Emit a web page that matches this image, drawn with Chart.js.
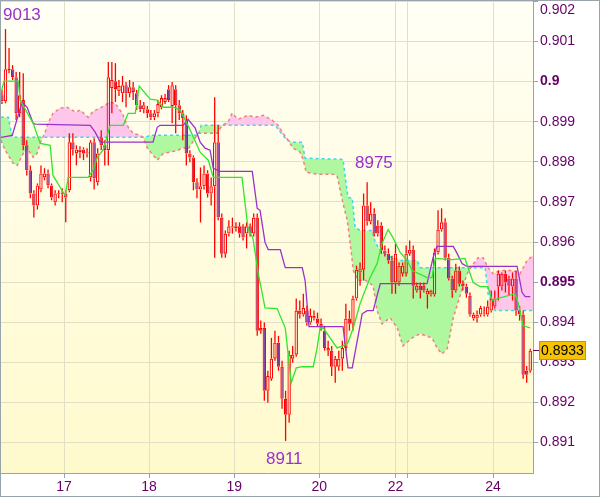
<!DOCTYPE html>
<html>
<head>
<meta charset="utf-8">
<title>Ichimoku H1</title>
<script src="https://cdn.jsdelivr.net/npm/chart.js@4.4.0/dist/chart.umd.min.js"></script>
<style>
  html, body { margin: 0; padding: 0; background: #fff; }
  #wrap { width: 600px; height: 497px; }
</style>
</head>
<body>
<div id="wrap"><canvas id="chart" width="600" height="497"></canvas></div>
<script>
// Hourly candles, bar 0 = first bar on screen
const opens = [
  0.89966, 0.89951, 0.90029, 0.90031, 0.90011, 0.89921, 0.89954, 0.89841, 0.89779, 0.89721,
  0.89691, 0.89731, 0.89761, 0.89771, 0.89741, 0.89699, 0.89721, 0.89719, 0.89721, 0.89729,
  0.89849, 0.89821, 0.89831, 0.89831, 0.89821, 0.89761, 0.89849, 0.89749, 0.89861, 0.89841,
  0.89829, 0.89984, 0.90001, 0.89976, 0.89971, 0.89991, 0.89971, 0.89986, 0.89971, 0.89941,
  0.89931, 0.89931, 0.89921, 0.89911, 0.89921, 0.89936, 0.89949, 0.89981, 0.89939, 0.89981,
  0.89941, 0.89921, 0.89904, 0.89821, 0.89811, 0.89749, 0.89731, 0.89739, 0.89771, 0.89721,
  0.89739, 0.89849, 0.89661, 0.89571, 0.89621, 0.89639, 0.89634, 0.89639, 0.89639, 0.89621,
  0.89639, 0.89621, 0.89661, 0.89386, 0.89386, 0.89229, 0.89259, 0.89309, 0.89349, 0.89289,
  0.89209, 0.89169, 0.89309, 0.89319, 0.89429, 0.89419, 0.89429, 0.89399, 0.89416, 0.89409,
  0.89396, 0.89379, 0.89336, 0.89329, 0.89289, 0.89289, 0.89309, 0.89336, 0.89409, 0.89396,
  0.89459, 0.89524, 0.89531, 0.89691, 0.89651, 0.89671, 0.89641, 0.89641, 0.89579, 0.89571,
  0.89554, 0.89499, 0.89499, 0.89521, 0.89521, 0.89571, 0.89581, 0.89479, 0.89491, 0.89491,
  0.89469, 0.89469, 0.89469, 0.89574, 0.89631, 0.89649, 0.89561, 0.89509, 0.89479, 0.89529,
  0.89496, 0.89489, 0.89466, 0.89409, 0.89409, 0.89419, 0.89419, 0.89419, 0.89429, 0.89439,
  0.89489, 0.89489, 0.89521, 0.89509, 0.89489, 0.89509, 0.89429, 0.89419, 0.89279, 0.89279
];
const highs = [
  0.89979, 0.90131, 0.90084, 0.90041, 0.90024, 0.90024, 0.90021, 0.89854, 0.89791, 0.89729,
  0.89746, 0.89791, 0.89784, 0.89781, 0.89746, 0.89729, 0.89729, 0.89734, 0.89729, 0.89871,
  0.89871, 0.89841, 0.89839, 0.89836, 0.89834, 0.89854, 0.89859, 0.89834, 0.89879, 0.89854,
  0.90049, 0.90049, 0.90046, 0.90004, 0.90014, 0.89999, 0.90004, 0.89999, 0.89979, 0.89954,
  0.89949, 0.89939, 0.89929, 0.89929, 0.89954, 0.89966, 0.89969, 0.89991, 0.89999, 0.89991,
  0.89954, 0.89929, 0.89916, 0.89829, 0.89816, 0.89759, 0.89786, 0.89791, 0.89779, 0.89761,
  0.89961, 0.89891, 0.89671, 0.89629, 0.89654, 0.89661, 0.89649, 0.89649, 0.89644, 0.89649,
  0.89646, 0.89671, 0.89671, 0.89404, 0.89399, 0.89279, 0.89361, 0.89379, 0.89366, 0.89304,
  0.89229, 0.89329, 0.89341, 0.89459, 0.89454, 0.89471, 0.89441, 0.89434, 0.89429, 0.89424,
  0.89409, 0.89391, 0.89354, 0.89341, 0.89316, 0.89329, 0.89354, 0.89446, 0.89429, 0.89466,
  0.89541, 0.89549, 0.89721, 0.89749, 0.89699, 0.89684, 0.89654, 0.89649, 0.89591, 0.89584,
  0.89566, 0.89596, 0.89549, 0.89549, 0.89591, 0.89604, 0.89591, 0.89499, 0.89499, 0.89499,
  0.89484, 0.89481, 0.89584, 0.89679, 0.89684, 0.89659, 0.89571, 0.89516, 0.89546, 0.89539,
  0.89504, 0.89496, 0.89474, 0.89424, 0.89429, 0.89441, 0.89439, 0.89454, 0.89479, 0.89479,
  0.89529, 0.89524, 0.89529, 0.89516, 0.89524, 0.89529, 0.89441, 0.89429, 0.89291, 0.89334
];
const lows = [
  0.89944, 0.89946, 0.90021, 0.90004, 0.89904, 0.89911, 0.89829, 0.89766, 0.89709, 0.89661,
  0.89681, 0.89724, 0.89754, 0.89734, 0.89704, 0.89691, 0.89709, 0.89699, 0.89649, 0.89724,
  0.89816, 0.89791, 0.89809, 0.89804, 0.89811, 0.89751, 0.89731, 0.89741, 0.89829, 0.89791,
  0.89791, 0.89921, 0.89949, 0.89964, 0.89949, 0.89936, 0.89961, 0.89954, 0.89929, 0.89924,
  0.89921, 0.89909, 0.89904, 0.89904, 0.89911, 0.89931, 0.89944, 0.89949, 0.89896, 0.89871,
  0.89904, 0.89854, 0.89791, 0.89799, 0.89729, 0.89709, 0.89649, 0.89731, 0.89711, 0.89691,
  0.89561, 0.89654, 0.89561, 0.89561, 0.89614, 0.89621, 0.89626, 0.89611, 0.89604, 0.89584,
  0.89614, 0.89614, 0.89366, 0.89371, 0.89204, 0.89199, 0.89254, 0.89304, 0.89279, 0.89184,
  0.89104, 0.89149, 0.89299, 0.89314, 0.89409, 0.89414, 0.89391, 0.89394, 0.89404, 0.89389,
  0.89379, 0.89329, 0.89316, 0.89266, 0.89249, 0.89279, 0.89279, 0.89329, 0.89379, 0.89379,
  0.89454, 0.89491, 0.89504, 0.89641, 0.89644, 0.89614, 0.89614, 0.89571, 0.89564, 0.89546,
  0.89471, 0.89471, 0.89491, 0.89514, 0.89514, 0.89566, 0.89459, 0.89474, 0.89459, 0.89474,
  0.89434, 0.89464, 0.89464, 0.89569, 0.89626, 0.89554, 0.89504, 0.89461, 0.89474, 0.89489,
  0.89479, 0.89461, 0.89414, 0.89404, 0.89399, 0.89414, 0.89414, 0.89414, 0.89424, 0.89434,
  0.89454, 0.89479, 0.89474, 0.89466, 0.89454, 0.89416, 0.89404, 0.89259, 0.89249, 0.89274
];
const closes = [
  0.89951, 0.90031, 0.90031, 0.90011, 0.89921, 0.89966, 0.89841, 0.89779, 0.89721, 0.89691,
  0.89741, 0.89771, 0.89771, 0.89741, 0.89711, 0.89721, 0.89719, 0.89721, 0.89711, 0.89849,
  0.89831, 0.89831, 0.89824, 0.89821, 0.89824, 0.89849, 0.89759, 0.89821, 0.89841, 0.89829,
  0.90011, 0.90004, 0.89981, 0.89989, 0.89991, 0.89971, 0.89986, 0.89974, 0.89941, 0.89931,
  0.89941, 0.89921, 0.89911, 0.89921, 0.89944, 0.89959, 0.89959, 0.89954, 0.89991, 0.89941,
  0.89921, 0.89909, 0.89821, 0.89811, 0.89749, 0.89731, 0.89739, 0.89771, 0.89721, 0.89739,
  0.89849, 0.89661, 0.89571, 0.89621, 0.89639, 0.89636, 0.89639, 0.89621, 0.89611, 0.89639,
  0.89621, 0.89661, 0.89379, 0.89379, 0.89229, 0.89266, 0.89309, 0.89349, 0.89289, 0.89209,
  0.89169, 0.89319, 0.89319, 0.89429, 0.89419, 0.89436, 0.89399, 0.89416, 0.89409, 0.89396,
  0.89386, 0.89336, 0.89329, 0.89289, 0.89309, 0.89309, 0.89336, 0.89409, 0.89396, 0.89459,
  0.89531, 0.89534, 0.89691, 0.89651, 0.89671, 0.89621, 0.89621, 0.89579, 0.89571, 0.89554,
  0.89499, 0.89571, 0.89541, 0.89541, 0.89571, 0.89581, 0.89491, 0.89491, 0.89479, 0.89479,
  0.89479, 0.89479, 0.89574, 0.89631, 0.89649, 0.89561, 0.89509, 0.89479, 0.89529, 0.89496,
  0.89489, 0.89471, 0.89419, 0.89419, 0.89419, 0.89436, 0.89421, 0.89439, 0.89459, 0.89459,
  0.89521, 0.89521, 0.89499, 0.89491, 0.89509, 0.89429, 0.89419, 0.89269, 0.89269, 0.89329
];

// Ichimoku lines as [bar, price] vertices
const tenkanPts = [
  [-0.3, 0.89971], [0.6, 0.90001], [4.6, 0.90001], [5.1, 0.89954], [8.8, 0.89896], [10.8, 0.89846],
  [13.6, 0.89841], [14.4, 0.89766], [17.8, 0.89716], [18.7, 0.89761], [24.3, 0.89761], [25.7, 0.89779],
  [26.9, 0.89811], [28.5, 0.89829], [29.7, 0.89866], [30.5, 0.89891], [34.2, 0.89891], [35.6, 0.89921],
  [37.6, 0.89921], [38.7, 0.89989], [41.8, 0.89956], [43.8, 0.89954], [45.5, 0.89936], [48.3, 0.89936],
  [50.3, 0.89929], [53.1, 0.89879], [55.9, 0.89824], [58.2, 0.89804], [59.6, 0.89761], [67.7, 0.89761],
  [69.4, 0.89634], [70.8, 0.89609], [72.3, 0.89521], [74.2, 0.89436], [77.6, 0.89434], [79.9, 0.89386],
  [80.7, 0.89321], [81.6, 0.89249], [83.0, 0.89286], [84.7, 0.89289], [87.8, 0.89289], [88.9, 0.89336],
  [89.7, 0.89384], [90.6, 0.89386], [94.5, 0.89336], [96.2, 0.89341], [97.6, 0.89349], [99.1, 0.89386],
  [101.0, 0.89446], [103.8, 0.89511], [105.8, 0.89546], [107.2, 0.89596], [108.9, 0.89631], [110.3, 0.89611],
  [112.3, 0.89574], [114.3, 0.89554], [115.7, 0.89529], [119.9, 0.89511], [121.3, 0.89511], [122.2, 0.89559],
  [127.0, 0.89556], [130.6, 0.89559], [132.9, 0.89499], [134.9, 0.89489], [137.1, 0.89489], [138.2, 0.89454],
  [140.5, 0.89461], [144.7, 0.89471], [145.6, 0.89449], [147.0, 0.89391], [149.0, 0.89386]
];
const kijunPts = [
  [-0.3, 0.89861], [2.9, 0.89866], [5.7, 0.89949], [7.1, 0.89936], [8.8, 0.89896], [9.4, 0.89894],
  [24.9, 0.89891], [26.3, 0.89874], [27.7, 0.89849], [42.6, 0.89849], [43.8, 0.89886], [44.6, 0.89891],
  [51.1, 0.89891], [52.5, 0.89906], [54.5, 0.89884], [55.9, 0.89849], [57.3, 0.89834], [58.7, 0.89829],
  [59.6, 0.89784], [61.5, 0.89776], [70.6, 0.89776], [72.0, 0.89684], [72.8, 0.89679], [74.2, 0.89599],
  [75.1, 0.89581], [78.5, 0.89581], [79.9, 0.89536], [84.7, 0.89536], [85.5, 0.89504], [86.6, 0.89389],
  [96.2, 0.89389], [97.6, 0.89286], [98.8, 0.89286], [101.6, 0.89421], [103.0, 0.89429], [104.7, 0.89429],
  [106.7, 0.89496], [119.9, 0.89496], [121.6, 0.89561], [122.7, 0.89589], [127.3, 0.89589], [128.4, 0.89571],
  [129.8, 0.89546], [131.2, 0.89539], [145.3, 0.89539], [146.7, 0.89474], [147.6, 0.89464], [149.0, 0.89464]
];
const spanAPts = [
  [-0.3, 0.89854], [0.9, 0.89829], [3.2, 0.89796], [4.3, 0.89791], [6.0, 0.89821], [7.1, 0.89834],
  [8.8, 0.89811], [9.9, 0.89821], [11.1, 0.89854], [12.2, 0.89874], [13.0, 0.89896], [14.4, 0.89921],
  [16.4, 0.89934], [18.4, 0.89936], [19.8, 0.89929], [20.7, 0.89924], [22.1, 0.89929], [24.3, 0.89911],
  [25.7, 0.89926], [27.7, 0.89934], [30.5, 0.89949], [31.9, 0.89946], [33.9, 0.89921], [35.6, 0.89886],
  [37.0, 0.89871], [39.0, 0.89866], [39.8, 0.89861], [41.0, 0.89834], [43.2, 0.89811], [43.8, 0.89804],
  [45.5, 0.89821], [47.4, 0.89824], [49.7, 0.89829], [51.1, 0.89836], [52.5, 0.89831], [55.3, 0.89871],
  [60.7, 0.89871], [62.1, 0.89891], [63.8, 0.89899], [64.9, 0.89921], [66.6, 0.89906], [69.4, 0.89916],
  [71.4, 0.89911], [73.7, 0.89916], [76.2, 0.89904], [77.9, 0.89891], [79.3, 0.89871], [80.7, 0.89854],
  [82.1, 0.89834], [84.1, 0.89824], [85.0, 0.89804], [85.8, 0.89774], [88.9, 0.89769], [93.4, 0.89769],
  [94.5, 0.89766], [96.2, 0.89696], [97.4, 0.89654], [98.2, 0.89599], [99.1, 0.89529], [100.5, 0.89504],
  [102.7, 0.89504], [104.7, 0.89491], [105.8, 0.89429], [107.2, 0.89396], [109.5, 0.89411], [111.5, 0.89386],
  [113.1, 0.89341], [115.7, 0.89361], [117.9, 0.89371], [121.3, 0.89361], [122.7, 0.89336], [124.1, 0.89321],
  [125.6, 0.89334], [127.3, 0.89411], [129.2, 0.89466], [131.2, 0.89521], [132.6, 0.89541], [134.3, 0.89561],
  [135.7, 0.89561], [137.1, 0.89536], [138.5, 0.89521], [140.5, 0.89529], [144.2, 0.89529], [146.1, 0.89521],
  [148.1, 0.89554], [149.8, 0.89566]
];
const spanBPts = [
  [-0.3, 0.89911], [1.8, 0.89911], [2.9, 0.89861], [40.4, 0.89861], [41.8, 0.89866], [55.3, 0.89866],
  [56.2, 0.89891], [77.1, 0.89891], [78.5, 0.89874], [80.4, 0.89854], [81.8, 0.89849], [84.7, 0.89849],
  [85.5, 0.89809], [96.2, 0.89806], [97.6, 0.89711], [98.8, 0.89709], [99.6, 0.89636], [101.0, 0.89629],
  [104.4, 0.89629], [105.3, 0.89599], [106.7, 0.89579], [108.6, 0.89566], [112.3, 0.89554], [117.1, 0.89554],
  [118.0, 0.89536], [136.3, 0.89536], [137.1, 0.89471], [139.1, 0.89429], [149.8, 0.89429]
];

// Axis ticks
const dayTickValues = [17.5, 41.5, 65.5, 89.5, 111, 114.5, 138.5];
const dayTickLabels = ['17', '18', '19', '20', '22', '', '24'];
const priceTickValues = [0.891, 0.892, 0.893, 0.894, 0.895, 0.896, 0.897, 0.898, 0.899, 0.9, 0.901, 0.902];
const priceTickLabels = ['0.891', '0.892', '0.893', '0.894', '0.895', '0.896', '0.897', '0.898', '0.899', '0.9', '0.901', '0.902'];
const boldPriceLabels = ['0.9', '0.895'];

const lastPrice = 0.8933;
const lastPriceLabel = '0.8933';

const FONT = "'Liberation Sans', Arial, sans-serif";
const AXIS_COLOR = '#98a4ac';
const LABEL_COLOR = '#660066';

const toXY = pts => pts.map(p => ({ x: p[0], y: p[1] }));

// Pale yellow plot background
const backgroundPlugin = {
    id: 'background',
    beforeDraw(chart) {
        const { ctx, chartArea: a } = chart;
        ctx.save();
        ctx.fillStyle = '#ffffff';
        ctx.fillRect(0, 0, chart.width, chart.height);
        const g = ctx.createLinearGradient(0, a.top, 0, a.bottom);
        g.addColorStop(0, '#fffff5');
        g.addColorStop(1, '#fffacc');
        ctx.fillStyle = g;
        ctx.fillRect(a.left, a.top, a.right - a.left, a.bottom - a.top);
        ctx.restore();
    }
};

// Extreme labels, top tick label, last price box, frame
const overlayPlugin = {
    id: 'overlay',
    afterDraw(chart) {
        const { ctx, chartArea: a } = chart;
        const yScale = chart.scales.y;
        ctx.save();

        ctx.font = '17px ' + FONT;
        ctx.fillStyle = '#9932cc';
        ctx.textBaseline = 'middle';
        ctx.textAlign = 'left';
        ctx.fillText('9013', 3, 15);
        ctx.fillText('8975', 355, 163);
        ctx.fillText('8911', 266, 459);

        // top tick label sits lower so it stays on the canvas
        ctx.font = '14px ' + FONT;
        ctx.fillStyle = LABEL_COLOR;
        ctx.fillText(priceTickLabels[priceTickLabels.length - 1], a.right + 7, 10);

        // last price marker
        const py = Math.round(yScale.getPixelForValue(lastPrice)) + 0.5;
        ctx.strokeStyle = LABEL_COLOR;
        ctx.lineWidth = 1;
        ctx.beginPath();
        ctx.moveTo(a.right, py);
        ctx.lineTo(a.right + 6, py);
        ctx.stroke();
        ctx.fillStyle = '#f7c300';
        ctx.fillRect(539.5, py - 9, 46, 18);
        ctx.strokeStyle = '#8a98a4';
        ctx.strokeRect(539.5, py - 9, 46, 18);
        ctx.fillStyle = '#000000';
        ctx.font = '14px ' + FONT;
        ctx.fillText(lastPriceLabel, 541, py + 1);

        // outer frame
        ctx.strokeStyle = AXIS_COLOR;
        ctx.strokeRect(0.5, 0.5, chart.width - 1, chart.height - 1);
        ctx.restore();
    }
};

const isBear = i => closes[i] < opens[i];

new Chart(document.getElementById('chart'), {
    type: 'line',
    data: {
        datasets: [
            {
                label: 'Senkou B',
                data: toXY(spanBPts),
                borderColor: '#3ad8ec',
                borderWidth: 1.5,
                borderDash: [3, 3],
                pointRadius: 0,
                fill: false,
                order: 6
            },
            {
                label: 'Senkou A',
                data: toXY(spanAPts),
                borderColor: '#f08080',
                borderWidth: 1.5,
                borderDash: [3, 3],
                pointRadius: 0,
                fill: { target: 0, above: '#ffc6ec', below: '#b0f8a0' },
                order: 5
            },
            {
                type: 'bar',
                label: 'wick up',
                data: opens.map((o, i) => ({ x: i, y: [Math.max(o, closes[i]), highs[i]] })),
                backgroundColor: '#ff0000',
                barThickness: 1.3,
                borderWidth: 0,
                inflateAmount: 0,
                grouped: false,
                order: 4
            },
            {
                type: 'bar',
                label: 'wick down',
                data: opens.map((o, i) => ({ x: i, y: [lows[i], Math.min(o, closes[i])] })),
                backgroundColor: '#ff0000',
                barThickness: 1.3,
                borderWidth: 0,
                inflateAmount: 0,
                grouped: false,
                order: 4
            },
            {
                type: 'bar',
                label: 'body',
                data: opens.map((o, i) => ({ x: i, y: [o, closes[i]] })),
                backgroundColor: ctx => isBear(ctx.dataIndex) ? '#7d3aa0' : 'rgba(0,0,0,0)',
                borderColor: '#ff0000',
                borderWidth: 1.1,
                borderSkipped: false,
                barThickness: 3.4,
                minBarLength: 1,
                inflateAmount: 0,
                grouped: false,
                order: 3
            },
            {
                label: 'Kijun',
                data: toXY(kijunPts),
                borderColor: '#9932cc',
                borderWidth: 1.3,
                pointRadius: 0,
                fill: false,
                order: 2
            },
            {
                label: 'Tenkan',
                data: toXY(tenkanPts),
                borderColor: '#2ee82e',
                borderWidth: 1.3,
                pointRadius: 0,
                fill: false,
                order: 1
            }
        ]
    },
    options: {
        responsive: false,
        animation: false,
        layout: { padding: { top: 1, left: 1, right: 0, bottom: 0 } },
        elements: { line: { tension: 0 } },
        plugins: {
            legend: { display: false },
            tooltip: { enabled: false },
            filler: { drawTime: 'beforeDatasetsDraw' }
        },
        scales: {
            x: {
                type: 'linear',
                min: -0.27,
                max: 149.78,
                offset: false,
                afterBuildTicks: s => { s.ticks = dayTickValues.map(v => ({ value: v })); },
                afterFit: s => { s.height = 24; s.paddingLeft = 0; s.paddingRight = 0; },
                ticks: {
                    autoSkip: false,
                    maxRotation: 0,
                    padding: 1,
                    color: LABEL_COLOR,
                    font: { family: FONT, size: 14 },
                    callback: (v, i) => dayTickLabels[i]
                },
                grid: { color: '#e2e0c4', tickColor: AXIS_COLOR, tickLength: 5, offset: false },
                border: { color: AXIS_COLOR }
            },
            y: {
                type: 'linear',
                position: 'right',
                min: 0.89024,
                max: 0.90201,
                afterBuildTicks: s => { s.ticks = priceTickValues.map(v => ({ value: v })); },
                afterFit: s => { s.width = 67; s.paddingTop = 0; s.paddingBottom = 0; },
                ticks: {
                    padding: 2,
                    color: LABEL_COLOR,
                    font: ctx => ({
                        family: FONT,
                        size: 14,
                        weight: boldPriceLabels.includes(priceTickLabels[ctx.index]) ? 'bold' : 'normal'
                    }),
                    callback: (v, i) => i === priceTickLabels.length - 1 ? '' : priceTickLabels[i]
                },
                grid: { color: '#e2e0c4', tickColor: AXIS_COLOR, tickLength: 5 },
                border: { color: AXIS_COLOR }
            }
        }
    },
    plugins: [backgroundPlugin, overlayPlugin]
});
</script>
</body>
</html>
